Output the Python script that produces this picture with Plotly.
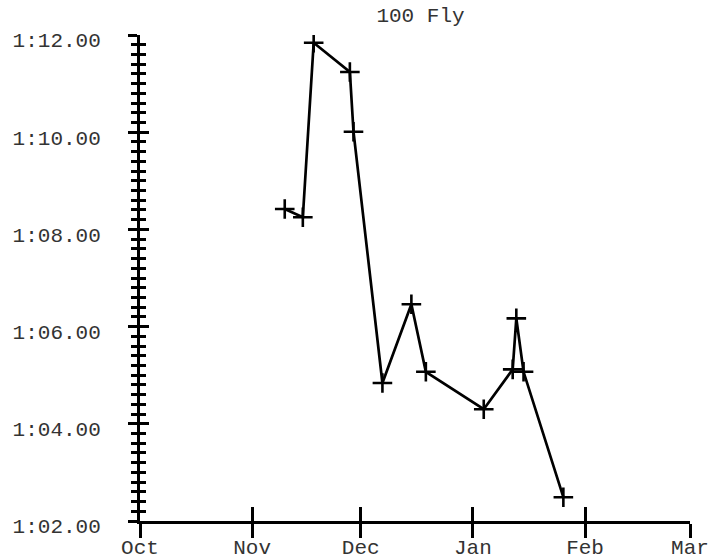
import plotly.graph_objects as go

# Data (swim times, 100 Fly)
dates = ["2003-11-10", "2003-11-15", "2003-11-18", "2003-11-28", "2003-11-29",
         "2003-12-07", "2003-12-15", "2003-12-19", "2004-01-04", "2004-01-12",
         "2004-01-13", "2004-01-15", "2004-01-26"]
times = ["1:08.42", "1:08.25", "1:11.84", "1:11.24", "1:10.01",
         "1:04.84", "1:06.46", "1:05.07", "1:04.30", "1:05.12",
         "1:06.17", "1:05.07", "1:02.49"]
y_tickvals = [62, 64, 66, 68, 70, 72]
y_ticktext = ["1:02.00", "1:04.00", "1:06.00", "1:08.00", "1:10.00", "1:12.00"]
x_range = ["2003-10-01", "2004-03-01"]
y_range = [62, 72]
title_text = "100 Fly"


def to_seconds(t):
    m, s = t.split(":")
    return int(m) * 60 + float(s)


secs = [to_seconds(t) for t in times]

FONT = "Liberation Mono, Courier New, monospace"
TXT = "#333333"
FS = 21

fig = go.Figure()
fig.add_trace(go.Scatter(
    x=dates, y=secs, mode="lines+markers",
    line=dict(color="black", width=2.7),
    marker=dict(symbol="cross-thin", size=14, line=dict(color="black", width=2.6)),
    showlegend=False, hoverinfo="x+y",
))
# invisible copy so the overlaid axes (inside ticks) are drawn
fig.add_trace(go.Scatter(
    x=dates, y=secs, mode="lines", xaxis="x2", yaxis="y2",
    line=dict(color="rgba(0,0,0,0)", width=0), opacity=0,
    showlegend=False, hoverinfo="skip",
))

common_x = dict(type="date", range=x_range, dtick="M1", tick0="2003-10-01",
                showgrid=False, zeroline=False, tickcolor="black", tickwidth=2.5,
                ticklen=14, automargin=False)
common_y = dict(range=y_range, showgrid=False, zeroline=False,
                tickmode="array", tickvals=y_tickvals, tickcolor="black",
                tickwidth=2.5, ticklen=9, automargin=False)

fig.update_layout(
    width=727, height=559,
    margin=dict(l=140, r=37, t=35, b=38),
    paper_bgcolor="white", plot_bgcolor="white",
    font=dict(family=FONT, size=FS, color=TXT),
    title=dict(text=title_text, x=0.51, xref="paper", y=1 - 15.0 / 559, yref="container",
               xanchor="center", yanchor="middle",
               font=dict(family=FONT, size=FS, color=TXT), automargin=False),
    xaxis=dict(**common_x, ticks="outside", showline=True, linecolor="black",
               linewidth=3, tickformat="%b", showticklabels=True,
               ticklabelstandoff=-9,
               tickfont=dict(family=FONT, size=FS, color=TXT)),
    xaxis2=dict(**common_x, ticks="inside", overlaying="x", anchor="y2",
                showline=False, showticklabels=False),
    yaxis=dict(**common_y, ticks="outside", showline=True, linecolor="black",
               linewidth=3, ticktext=y_ticktext, ticklabelstandoff=23,
               ticklabelshift=5,
               tickfont=dict(family=FONT, size=FS, color=TXT),
               minor=dict(tickmode="linear", tick0=62, dtick=0.2, ticks="outside",
                          ticklen=6, tickwidth=2.5, tickcolor="black")),
    yaxis2=dict(**common_y, ticks="inside", overlaying="y", anchor="x2",
                showline=False, showticklabels=False,
                minor=dict(tickmode="linear", tick0=62, dtick=0.2, ticks="inside",
                           ticklen=6, tickwidth=2.5, tickcolor="black")),
)

# remove the default page margin so the 727x559 figure fills the window exactly
fig.write_html("out.html", config={"displayModeBar": False},
               post_script="document.body.style.margin='0';")
